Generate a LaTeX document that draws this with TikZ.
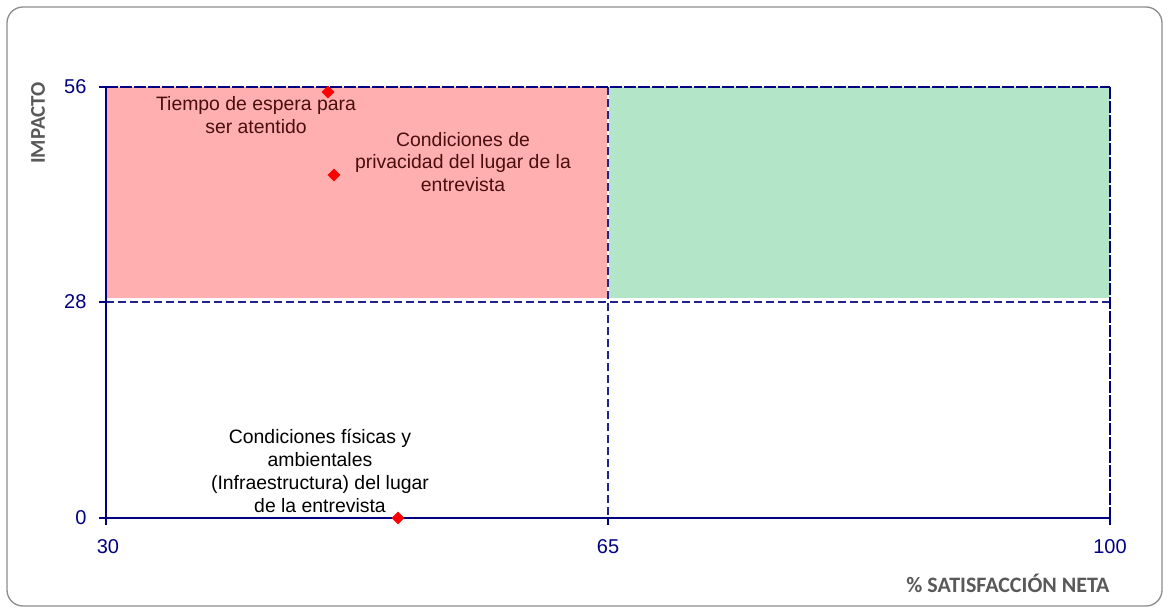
\documentclass[tikz,border=0pt]{standalone}
\usepackage{fontspec}
\setmainfont{Liberation Sans}
\newfontfamily\calib{Carlito}
\usetikzlibrary{shapes.geometric}
\definecolor{axisblue}{HTML}{000080}
\definecolor{dashblue}{HTML}{22228F}
\definecolor{redzone}{HTML}{FFAFAF}
\definecolor{greenzone}{HTML}{B3E6C9}
\definecolor{labelred}{HTML}{4A0E0E}
\definecolor{frame}{HTML}{8C8C8C}
\definecolor{titlegray}{HTML}{595959}
\tikzset{
  pt/.style={diamond, fill=red, inner sep=0pt, minimum size=13pt},
  lbl/.style={align=center, font=\fontsize{19.4}{22.8}\selectfont},
  ticklbl/.style={text=axisblue, font=\fontsize{20}{24}\selectfont},
  grid/.style={dashblue, line width=1.3pt, dash pattern=on 8pt off 4pt},
  axisline/.style={axisblue, line width=1.5pt},
  ttl/.style={text=titlegray, font=\calib\bfseries\fontsize{22}{26}\selectfont}
}
\begin{document}
\begin{tikzpicture}[x=1pt,y=-1pt]
\useasboundingbox (0,0) rectangle (1169,613);
\fill[white] (0,0) rectangle (1169,613);
\draw[frame, line width=1.3pt, rounded corners=16pt] (7,7) rectangle (1162,606);
% zones
\fill[redzone] (106,87) rectangle (607,298);
\fill[greenzone] (609,87) rectangle (1110,298);
% coordinates
\coordinate (y56) at (106,87);
\coordinate (y28) at (106,302);
\coordinate (o) at (106,518);
\coordinate (x65) at (608,518);
\coordinate (x100) at (1110,518);
\coordinate (t65) at (608,87);
\coordinate (t100) at (1110,87);
\coordinate (r28) at (1110,302);
% grid lines
\draw[grid] (y28) -- (r28);
\draw[grid] (t65) -- (x65);
\draw[axisblue, line width=1.3pt, dash pattern=on 12pt off 2pt] (y56) -- (t100);
\draw[axisblue, line width=1.3pt, dash pattern=on 12pt off 2pt] (t100) -- (x100);
% axes
\draw[axisline] (y56) -- (o) -- (x100);
\foreach \c in {y56,y28,o} \draw[axisline] (\c) -- ++(-7,0);
\foreach \c in {o,x65,x100} \draw[axisline] (\c) -- ++(0,7);
% tick labels
\node[ticklbl, anchor=east] (l56) at (90,87) {56};
\node[ticklbl, anchor=east] (l28) at (90,302) {28};
\node[ticklbl, anchor=east] (l0) at (90,518) {0};
\node[ticklbl] (l30) at (108,547) {30};
\node[ticklbl] (l65) at (608,547) {65};
\node[ticklbl] (l100) at (1110,547) {100};
% axis titles
\node[ttl, rotate=90, font=\calib\bfseries\fontsize{21}{25}\selectfont] (ytitle) at (38,123) {IMPACTO};
\node[ttl] (xtitle) at (1008,583) {\% SATISFACCIÓN NETA};
% points
\node[pt] (p1) at (328,92) {};
\node[pt] (p2) at (334,175) {};
\node[pt] (p3) at (398,518) {};
% labels
\node[lbl, text=labelred] (lab1) at (256,115) {Tiempo de espera para\\ser atentido};
\node[lbl, text=labelred] (lab2) at (463,162) {Condiciones de\\privacidad del lugar de la\\entrevista};
\node[lbl] (lab3) at (320,471) {Condiciones físicas y\\ambientales\\(Infraestructura) del lugar\\de la entrevista};
\end{tikzpicture}
\end{document}
